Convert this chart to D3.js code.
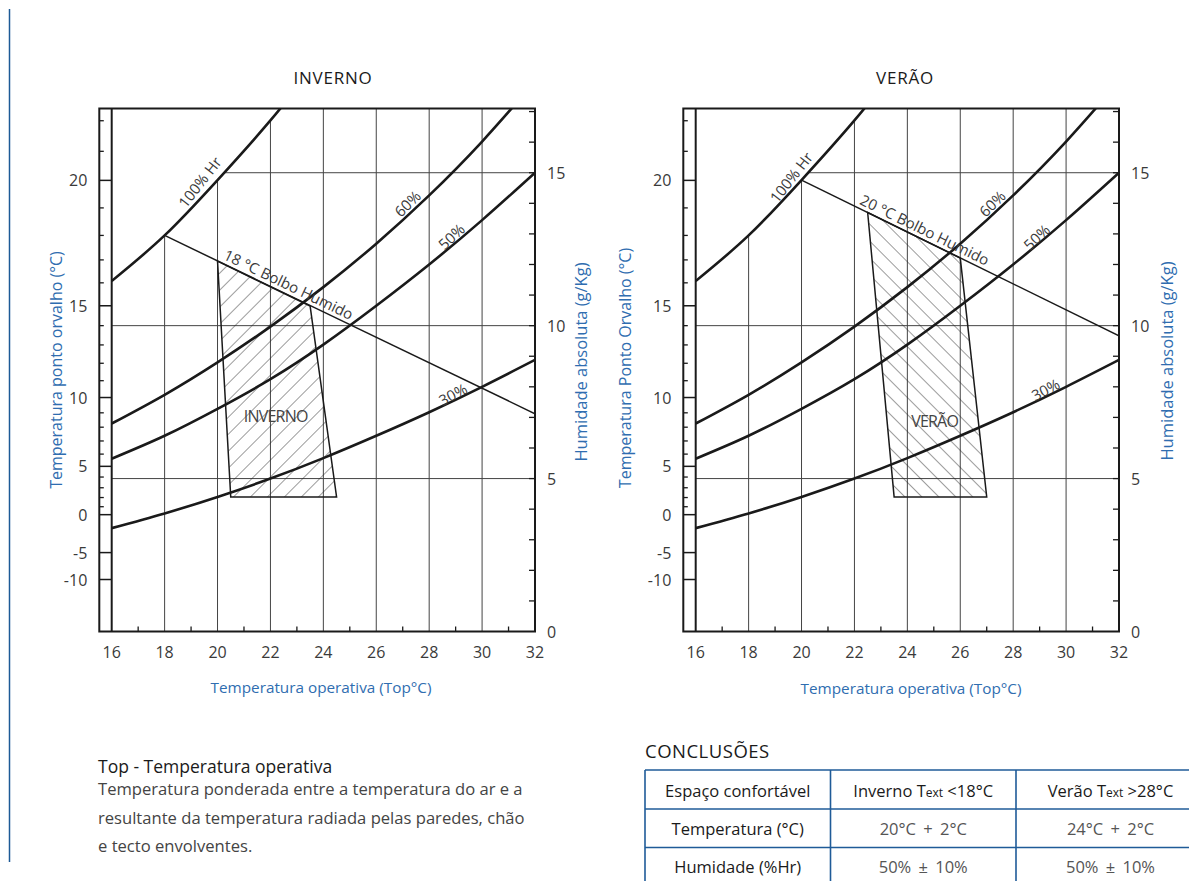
<!DOCTYPE html>
<html><head><meta charset="utf-8">
<script src="https://cdn.jsdelivr.net/npm/d3@7"></script>
<style>
body{margin:0;background:#fff;}
svg{display:block;font-family:"Open Sans","Lato",sans-serif;}
</style></head><body>
<svg id="c" width="1189" height="881"></svg>
<script>
// ---------- data ----------
const xTicks = [16,18,20,22,24,26,28,30,32];
const xMinorTicks = [17,19,21,23,25,27,29,31];
const xGrid = [18,20,22,24,26,28,30];
const curveTemps = [16,18,20,22,24,26,28,30,32];
const rh100 = [11.46,12.95,14.76,16.71,18.85];
const rh60 = [6.8,7.74,8.8,9.97,11.26,12.68,14.26,16.02,17.98];
const rh50 = [5.65,6.4,7.28,8.25,9.38,10.65,12.0,13.45,15.0];
const rh30 = [3.38,3.86,4.4,5.0,5.67,6.4,7.17,8.0,8.88];
const humLabels = [0,5,10,15];
const humMinorTicks = [1,2,3,4,5,6,7,8,9,10,11,12,13,14,15,16,17];
const humGrid = [5,10,15];
const dewLabels = [20,15,10,5,0,-5,-10];
const dewLabelHum = [14.75,10.65,7.65,5.4,3.82,2.58,1.7];
const dewMinor = [22,21,19,18,17,16,14,13,12,11,9,8,7,6,4,3,2,1];
const dewMinorHum = [16.7,15.7,13.85,12.95,12.15,11.4,10.0,9.37,8.77,8.2,7.15,6.68,6.23,5.8,5.05,4.7,4.38,4.08];
const winterWetBulb = [[18,12.95],[32,7.12]];
const winterZone = [[20,12.11],[23.5,10.64],[24.5,4.4],[20.5,4.4]];
const summerWetBulb = [[20,14.76],[32,9.67]];
const summerZone = [[22.5,13.7],[26,12.21],[27,4.4],[23.5,4.4]];
const tableHeader = [["Espaço confortável"],["Inverno T","ext"," <18°C"],["Verão T","ext"," >28°C"]];
const tableRows = [["Temperatura (°C)","20°C + 2°C","24°C + 2°C"],["Humidade (%Hr)","50% ± 10%","50% ± 10%"]];
const noteTitle = "Top - Temperatura operativa";
const noteLines = ["Temperatura ponderada entre a temperatura do ar e a","resultante da temperatura radiada pelas paredes, chão","e tecto envolventes."];

// ---------- layout ----------
const BLUE = "#2f6db0", INK = "#1a1a1a", GREY = "#3a3a3a";
const svg = d3.select("#c");
const defs = svg.append("defs");
const yTop = 108.5, yBot = 631.5;
const ys = d3.scaleLinear().domain([0,17.1]).range([yBot, yTop]);

svg.append("line").attr("x1",9.5).attr("x2",9.5).attr("y1",9).attr("y2",862)
  .attr("stroke","#1c5a96").attr("stroke-width",1.5);

function hatch(id, angle){
  const p = defs.append("pattern").attr("id",id).attr("patternUnits","userSpaceOnUse")
    .attr("width",12).attr("height",12).attr("patternTransform",`rotate(${angle})`);
  p.append("line").attr("x1",0).attr("y1",0).attr("x2",0).attr("y2",12)
    .attr("stroke","#222").attr("stroke-width",0.9);
}
hatch("hw",45); hatch("hs",-45);

const charts = [
  {id:"w", title:"INVERNO", titleX:333, left:99.3, x0:111.7, x1:535,
   leftTitle:"Temperatura ponto orvalho (°C)", leftTitleX:56, leftTitleY:370,
   rightTitleX:580, rightTitleY:362, xTitleX:321, xTitleY:687,
   wet:winterWetBulb, zone:winterZone, zoneLabel:"INVERNO", zoneLabelAt:[22.2,7.05], hatch:"hw",
   wetLabel:"18 °C Bolbo Humido", wetLabelT:20.12,
   lab:[["100% Hr",19.32,14.7,-52],["60%",27.17,14.0,-45],["50%",28.83,12.92,-43],["30%",28.89,7.76,-28]]},
  {id:"s", title:"VERÃO", titleX:905, left:683.3, x0:695.7, x1:1119,
   leftTitle:"Temperatura Ponto Orvalho (°C)", leftTitleX:625, leftTitleY:368,
   rightTitleX:1166, rightTitleY:361, xTitleX:911, xTitleY:688,
   wet:summerWetBulb, zone:summerZone, zoneLabel:"VERÃO", zoneLabelAt:[25.03,6.88], hatch:"hs",
   wetLabel:"20 °C Bolbo Humido", wetLabelT:22.1,
   lab:[["100% Hr",19.6,14.86,-52],["60%",27.2,14.0,-45],["50%",28.88,12.9,-43],["30%",29.22,7.92,-28]]}
];

charts.forEach(c=>{
  const xs = d3.scaleLinear().domain([16,32]).range([c.x0,c.x1]);
  const line = d3.line().x(d=>xs(d[0])).y(d=>ys(d[1])).curve(d3.curveNatural);
  const g = svg.append("g");
  const pts = arr => arr.map((v,i)=>[curveTemps[i],v]);

  // clips
  defs.append("clipPath").attr("id","r"+c.id).append("rect")
    .attr("x",c.x0).attr("y",yTop).attr("width",c.x1-c.x0).attr("height",yBot-yTop);
  defs.append("clipPath").attr("id","sat"+c.id).append("path")
    .attr("d", line(pts(rh100)) + `L${c.x1},${yTop-40}L${c.x1},${yBot}L${c.x0},${yBot}Z`);

  const plot = g.append("g").attr("clip-path",`url(#r${c.id})`);
  const grid = plot.append("g").attr("clip-path",`url(#sat${c.id})`);
  grid.selectAll(".vg").data(xGrid).join("line")
    .attr("x1",d=>xs(d)).attr("x2",d=>xs(d)).attr("y1",yTop).attr("y2",yBot)
    .attr("stroke","#444").attr("stroke-width",1);
  grid.selectAll(".hg").data(humGrid).join("line")
    .attr("x1",c.x0).attr("x2",c.x1).attr("y1",d=>ys(d)).attr("y2",d=>ys(d))
    .attr("stroke","#444").attr("stroke-width",1);

  // comfort zone
  plot.append("path").attr("d", d3.line().x(d=>xs(d[0])).y(d=>ys(d[1]))(c.zone)+"Z")
    .attr("fill",`url(#${c.hatch})`).attr("stroke",INK).attr("stroke-width",1.5);

  // RH curves
  [rh100,rh60,rh50,rh30].forEach(a=>{
    plot.append("path").attr("d",line(pts(a))).attr("fill","none")
      .attr("stroke",INK).attr("stroke-width",2.6);
  });
  // wet bulb line
  plot.append("path").attr("d", d3.line().x(d=>xs(d[0])).y(d=>ys(d[1]))(c.wet))
    .attr("fill","none").attr("stroke",INK).attr("stroke-width",1.5);

  // frame
  g.append("rect").attr("x",c.left).attr("y",yTop).attr("width",c.x1-c.left).attr("height",yBot-yTop)
    .attr("fill","none").attr("stroke",INK).attr("stroke-width",2);
  g.append("line").attr("x1",c.x0).attr("x2",c.x0).attr("y1",yTop).attr("y2",yBot)
    .attr("stroke",INK).attr("stroke-width",2);

  // bottom axis minor ticks
  g.selectAll(".xm").data(xMinorTicks).join("line")
    .attr("x1",d=>xs(d)).attr("x2",d=>xs(d)).attr("y1",yBot).attr("y2",yBot-5)
    .attr("stroke",INK).attr("stroke-width",1.3);
  g.selectAll(".xl").data(xTicks).join("text")
    .attr("x",d=>xs(d)).attr("y",652).attr("text-anchor","middle").attr("dominant-baseline","central")
    .attr("font-size",16).attr("fill",GREY).text(d=>d);

  // right axis
  g.selectAll(".rm").data(humMinorTicks).join("line")
    .attr("x1",c.x1).attr("x2",c.x1-6).attr("y1",d=>ys(d)).attr("y2",d=>ys(d))
    .attr("stroke",INK).attr("stroke-width",1.3);
  g.selectAll(".rl").data(humLabels).join("text")
    .attr("x",c.x1+12).attr("y",d=>ys(d)).attr("dominant-baseline","central")
    .attr("font-size",16).attr("fill",GREY).text(d=>d);

  // left axis (dew point)
  g.selectAll(".lm").data(dewMinorHum).join("line")
    .attr("x1",c.left).attr("x2",c.left+4.5).attr("y1",d=>ys(d)).attr("y2",d=>ys(d))
    .attr("stroke",INK).attr("stroke-width",1.3);
  g.selectAll(".lM").data(dewLabelHum).join("line")
    .attr("x1",c.left).attr("x2",c.x0).attr("y1",d=>ys(d)).attr("y2",d=>ys(d))
    .attr("stroke",INK).attr("stroke-width",1.5);
  g.selectAll(".ll").data(dewLabels).join("text")
    .attr("x",c.left-12).attr("y",(d,i)=>ys(dewLabelHum[i])).attr("text-anchor","end")
    .attr("dominant-baseline","central").attr("font-size",16).attr("fill",GREY).text(d=>d);

  // titles
  g.append("text").attr("x",c.titleX).attr("y",77).attr("text-anchor","middle")
    .attr("dominant-baseline","central").attr("font-size",17).attr("letter-spacing",0.8)
    .attr("font-weight",500).attr("fill",INK).text(c.title);
  g.append("text").attr("transform",`translate(${c.leftTitleX},${c.leftTitleY}) rotate(-90)`)
    .attr("text-anchor","middle").attr("dominant-baseline","central")
    .attr("font-size",16).attr("fill",BLUE).text(c.leftTitle);
  g.append("text").attr("transform",`translate(${c.rightTitleX},${c.rightTitleY}) rotate(-90)`)
    .attr("text-anchor","middle").attr("dominant-baseline","central")
    .attr("font-size",16.5).attr("fill",BLUE).text("Humidade absoluta (g/Kg)");
  g.append("text").attr("x",c.xTitleX).attr("y",c.xTitleY).attr("text-anchor","middle")
    .attr("dominant-baseline","central").attr("font-size",15.3).attr("fill",BLUE)
    .text("Temperatura operativa (Top°C)");

  // curve labels
  c.lab.forEach(l=>{
    g.append("text").attr("transform",`translate(${xs(l[1])},${ys(l[2])}) rotate(${l[3]})`)
      .attr("text-anchor","middle").attr("dominant-baseline","central")
      .attr("font-size",15).attr("fill",GREY).text(l[0]);
  });
  // wet bulb label
  const [p1,p2] = c.wet;
  const ang = Math.atan2(ys(p2[1])-ys(p1[1]), xs(p2[0])-xs(p1[0]))*180/Math.PI;
  const wy = p1[1] + (c.wetLabelT-p1[0])*(p2[1]-p1[1])/(p2[0]-p1[0]);
  g.append("text").attr("transform",`translate(${xs(c.wetLabelT)},${ys(wy)}) rotate(${ang}) translate(0,-4)`)
    .attr("font-size",15).attr("fill",GREY).text(c.wetLabel);
  // zone label
  g.append("text").attr("x",xs(c.zoneLabelAt[0])).attr("y",ys(c.zoneLabelAt[1]))
    .attr("text-anchor","middle").attr("dominant-baseline","central")
    .attr("font-size",16).attr("letter-spacing",-0.8).attr("fill","#444").text(c.zoneLabel);
});

// ---------- note ----------
const note = svg.append("g");
note.append("text").attr("x",98).attr("y",773).attr("font-size",17.5).attr("font-weight",500)
  .attr("fill",INK).text(noteTitle);
note.selectAll(".nl").data(noteLines).join("text")
  .attr("x",98).attr("y",(d,i)=>795+i*28.5).attr("font-size",16.6).attr("fill","#444").text(d=>d);

// ---------- table ----------
const tb = svg.append("g");
const colX = [645,830.5,1016,1205];
const rowY = [770,809,847.5,886];
tb.append("text").attr("x",645).attr("y",758).attr("font-size",18.5).attr("letter-spacing",0.5)
  .attr("fill",INK).text("CONCLUSÕES");
rowY.forEach(y=>tb.append("line").attr("x1",colX[0]).attr("x2",colX[3]).attr("y1",y).attr("y2",y)
  .attr("stroke","#1f5b98").attr("stroke-width",1.6));
colX.forEach(x=>tb.append("line").attr("x1",x).attr("x2",x).attr("y1",rowY[0]).attr("y2",rowY[3])
  .attr("stroke","#1f5b98").attr("stroke-width",1.6));
tableHeader.forEach((h,i)=>{
  const t = tb.append("text").attr("x",(colX[i]+colX[i+1])/2).attr("y",(rowY[0]+rowY[1])/2)
    .attr("text-anchor","middle").attr("dominant-baseline","central")
    .attr("font-size",16.5).attr("font-weight",500).attr("fill",INK);
  t.append("tspan").text(h[0]);
  if(h.length>1){
    t.append("tspan").attr("font-size",12).attr("dy",2).text(h[1]);
    t.append("tspan").attr("dy",-2).text(h[2]);
  }
});
tableRows.forEach((r,ri)=>{
  r.forEach((v,ci)=>{
    tb.append("text").attr("x",(colX[ci]+colX[ci+1])/2).attr("y",(rowY[ri+1]+rowY[ri+2])/2)
      .attr("text-anchor","middle").attr("dominant-baseline","central").attr("word-spacing",ci===0?0:3)
      .attr("font-size",16.5).attr("font-weight",ci===0?500:400).attr("fill",ci===0?INK:"#555").text(v);
  });
});
</script></body></html>
